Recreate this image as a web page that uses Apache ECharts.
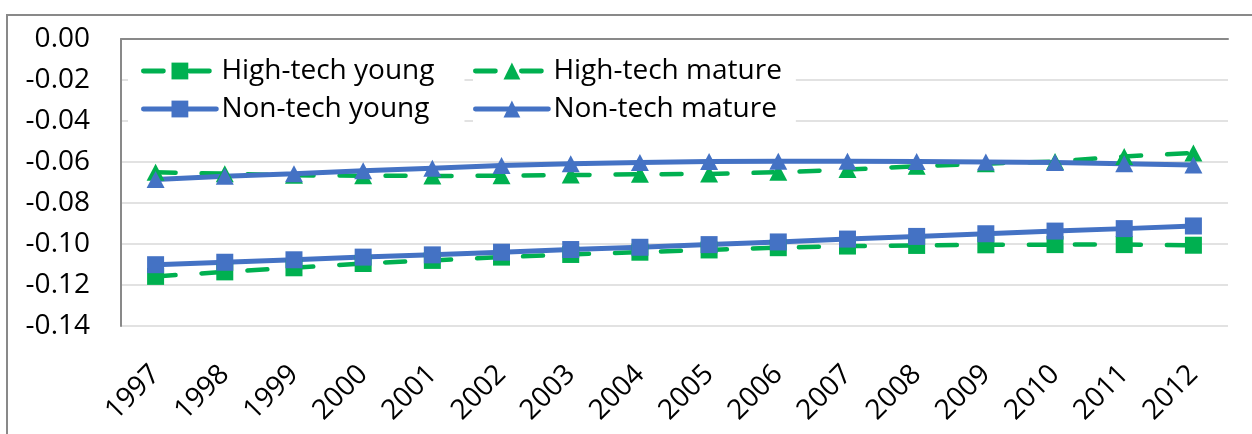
<!DOCTYPE html>
<html lang="en">
<head>
  <meta charset="UTF-8">
  <title>High-tech vs Non-tech, young and mature</title>
  <script src="https://cdn.jsdelivr.net/npm/echarts/dist/echarts.min.js"></script>
  <style>
    body {
      margin: 0;
      background: #ffffff;
    }
    #chart {
      width: 1252px;
      height: 434px;
    }
  </style>
</head>
<body>
  <div id="chart"></div>

  <script>
    const years = ['1997', '1998', '1999', '2000', '2001', '2002', '2003', '2004',
                   '2005', '2006', '2007', '2008', '2009', '2010', '2011', '2012'];

    const highTechYoung = [-0.1158, -0.1136, -0.1116, -0.1095, -0.1080, -0.1064, -0.1051, -0.1040,
                           -0.1029, -0.1018, -0.1010, -0.1007, -0.1004, -0.1003, -0.1003, -0.1006];
    const highTechMature = [-0.0650, -0.0657, -0.0665, -0.0667, -0.0668, -0.0667, -0.0664, -0.0660,
                            -0.0658, -0.0650, -0.0637, -0.0621, -0.0608, -0.0598, -0.0573, -0.0556];
    const nonTechYoung = [-0.1101, -0.1089, -0.1077, -0.1064, -0.1053, -0.1040, -0.1027, -0.1016,
                          -0.1003, -0.0990, -0.0976, -0.0963, -0.0950, -0.0937, -0.0925, -0.0912];
    const nonTechMature = [-0.0685, -0.0670, -0.0657, -0.0643, -0.0630, -0.0617, -0.0608, -0.0602,
                           -0.0598, -0.0596, -0.0596, -0.0598, -0.0600, -0.0602, -0.0608, -0.0615];

    const yMin = -0.14;
    const yMax = 0;
    const yStep = 0.02;

    const GREEN = '#00b050';
    const BLUE = '#4472c4';
    const FONT = 'Open Sans';

    const chart = echarts.init(document.getElementById('chart'));

    function lineSeries(name, data, color, symbol, dashed) {
      return {
        name: name,
        type: 'line',
        data: data,
        symbol: symbol,
        symbolSize: symbol === 'rect' ? 17 : [18, 17],
        showAllSymbol: true,
        itemStyle: { color: color },
        lineStyle: {
          color: color,
          width: dashed ? 4.5 : 5,
          type: dashed ? [20, 26] : 'solid',
          cap: 'round'
        },
        emphasis: { disabled: true },
        animation: false
      };
    }

    const legendText = { fontFamily: FONT, fontSize: 28, color: '#000', lineHeight: 28 };

    function legendBox(names, left, padding) {
      return {
        data: names,
        orient: 'vertical',
        left: left,
        top: 49,
        padding: padding,
        itemGap: 10,
        itemWidth: 73,
        itemHeight: 21,
        backgroundColor: '#ffffff',
        lineStyle: { width: 4.8 },
        textStyle: legendText
      };
    }

    const option = {
      backgroundColor: '#ffffff',
      animation: false,
      grid: { left: 121, right: 24, top: 39, bottom: 108 },
      graphic: [{
        type: 'rect',
        silent: true,
        shape: { x: 7, y: 15, width: 1300, height: 500 },
        style: { fill: 'none', stroke: '#898989', lineWidth: 2 }
      }],
      legend: [
        legendBox(['High-tech young', 'Non-tech young'], 128, [8, 30, 8, 13]),
        legendBox(['High-tech mature', 'Non-tech mature'], 473, [8, 14, 8, 0])
      ],
      xAxis: [
        {
          type: 'category',
          data: years,
          position: 'bottom',
          boundaryGap: true,
          axisLine: { show: false, onZero: false },
          axisTick: { show: false },
          axisLabel: {
            rotate: 45,
            margin: 44,
            fontFamily: FONT,
            fontSize: 28,
            color: '#000'
          },
          splitLine: { show: false }
        },
        {
          type: 'category',
          data: years,
          position: 'top',
          axisLine: { show: true, lineStyle: { color: '#898989', width: 2 } },
          axisTick: { show: false },
          axisLabel: { show: false },
          splitLine: { show: false }
        }
      ],
      yAxis: {
        type: 'value',
        min: yMin,
        max: yMax,
        interval: yStep,
        axisLine: { show: true, lineStyle: { color: '#898989', width: 2 } },
        axisTick: { show: false },
        axisLabel: {
          margin: 31,
          fontFamily: FONT,
          fontSize: 28,
          color: '#000',
          formatter: function (v) { return v.toFixed(2); }
        },
        splitLine: { lineStyle: { color: '#d9d9d9', width: 1.5 } }
      },
      series: [
        lineSeries('High-tech young', highTechYoung, GREEN, 'rect', true),
        lineSeries('High-tech mature', highTechMature, GREEN, 'triangle', true),
        lineSeries('Non-tech young', nonTechYoung, BLUE, 'rect', false),
        lineSeries('Non-tech mature', nonTechMature, BLUE, 'triangle', false)
      ]
    };

    chart.setOption(option);
  </script>
</body>
</html>
